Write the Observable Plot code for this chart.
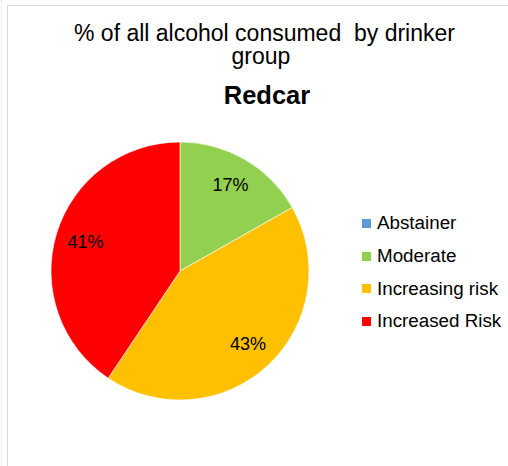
<!DOCTYPE html>
<html>
<head>
<meta charset="utf-8">
<script src="https://cdn.jsdelivr.net/npm/d3@7"></script>
<script src="https://cdn.jsdelivr.net/npm/@observablehq/plot@0.6"></script>
<style>
  html, body { margin: 0; padding: 0; background: #fff; }
  #wrap { position: relative; width: 508px; height: 466px; overflow: hidden; font-family: "Liberation Sans", Arial, sans-serif; color: #000; }
  #frame { position: absolute; left: 7px; top: 5px; right: -5px; bottom: -5px; border-top: 1.5px solid #d9d9d9; border-left: 1.5px solid #d9d9d9; }
  #outer { position: absolute; left: 1px; top: 0; width: 1px; height: 466px; background: #efefef; }
  .t { position: absolute; width: 400px; text-align: center; line-height: 1; white-space: pre; }
  #chart { position: absolute; left: 0; top: 110px; }
  #legend { position: absolute; left: 362px; top: 207px; }
  .row { display: flex; align-items: center; height: 32.7px; font-size: 18.8px; }
  .sw { width: 9px; height: 9px; margin-right: 6px; }
</style>
</head>
<body>
<div id="wrap">
  <div id="outer"></div>
  <div id="frame"></div>
  <div class="t" id="t1" style="left:64.5px; top:21.5px; font-size:23px;"></div>
  <div class="t" id="t2" style="left:61px; top:45px; font-size:23px;"></div>
  <div class="t" id="t3" style="left:67px; top:82.5px; font-size:25.5px; font-weight:bold;"></div>
  <div id="chart"></div>
  <div id="legend"></div>
</div>
<script>
const titleLines = ["% of all alcohol consumed  by drinker", "group"];
const subtitle = "Redcar";
const categories = ["Abstainer", "Moderate", "Increasing risk", "Increased Risk"];
const values = [0, 16.8, 42.6, 40.6];
const colors = ["#5B9BD5", "#92D050", "#FFC000", "#FF0000"];

document.getElementById("t1").textContent = titleLines[0];
document.getElementById("t2").textContent = titleLines[1];
document.getElementById("t3").textContent = subtitle;

const data = categories.map((c, i) => ({category: c, value: values[i]}));
const arcs = d3.pie().sort(null).value(d => d.value)(data);
const labels = arcs.filter(a => a.data.value > 0).map(a => {
  const mid = (a.startAngle + a.endAngle) / 2;
  return {x: 0.77 * Math.sin(mid), y: 0.77 * Math.cos(mid), text: Math.round(a.data.value) + "%"};
});

function pieMark(index, scales, values, dimensions, context) {
  const cx = scales.x(0), cy = scales.y(0);
  const r = scales.x(1) - scales.x(0);
  const arc = d3.arc().innerRadius(0).outerRadius(r);
  const g = d3.create("svg:g").attr("transform", `translate(${cx},${cy})`);
  g.selectAll("path").data(arcs.filter(a => a.data.value > 0)).join("path")
    .attr("d", arc)
    .attr("fill", d => scales.color(d.data.category))
    .attr("stroke", "#fff")
    .attr("stroke-width", 0.6);
  return g.node();
}

const plot = Plot.plot({
  width: 508,
  height: 356,
  margin: 0,
  style: {background: "transparent", overflow: "visible"},
  x: {domain: [-1, 1], range: [51, 309], axis: null},
  y: {domain: [-1, 1], range: [290, 32], axis: null},
  color: {domain: categories, range: colors},
  marks: [
    pieMark,
    Plot.text(labels, {x: "x", y: "y", text: "text", fontSize: 18, fill: "#000", fontFamily: "Liberation Sans, Arial, sans-serif"})
  ]
});
document.getElementById("chart").appendChild(plot);

const legend = document.getElementById("legend");
categories.forEach((c, i) => {
  const row = document.createElement("div");
  row.className = "row";
  const sw = document.createElement("div");
  sw.className = "sw";
  sw.style.background = colors[i];
  const tx = document.createElement("span");
  tx.textContent = c;
  row.appendChild(sw);
  row.appendChild(tx);
  legend.appendChild(row);
});
</script>
</body>
</html>
